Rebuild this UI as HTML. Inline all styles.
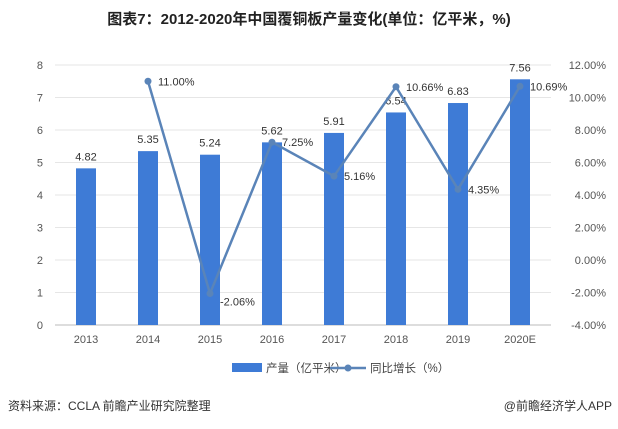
<!DOCTYPE html>
<html><head><meta charset="utf-8"><style>
body{margin:0;background:#fff;width:618px;height:424px;overflow:hidden;font-family:"Liberation Sans","Noto Sans CJK SC",sans-serif}
svg text{font-family:"Liberation Sans","Noto Sans CJK SC",sans-serif}
</style></head><body>
<svg width="618" height="424">
<text x="309" y="24" text-anchor="middle" font-size="15" font-weight="bold" fill="#222">图表7：2012-2020年中国覆铜板产量变化(单位：亿平米，%)</text>
<g id="grid"></g><g id="bars"></g><g id="line"></g><g id="axes"></g>
<g>
<rect x="232" y="363" width="30" height="9" fill="#3e7bd6"/>
<text x="266" y="372" font-size="11.5" fill="#444">产量（亿平米）</text>
<line x1="330" y1="368" x2="366" y2="368" stroke="#5a84b8" stroke-width="2.5"/>
<circle cx="348" cy="368" r="3.5" fill="#5a84b8"/>
<text x="370" y="372" font-size="11.5" fill="#444">同比增长（%）</text>
</g>
<text x="8" y="410" font-size="12" fill="#333">资料来源：CCLA 前瞻产业研究院整理</text>
<text x="612" y="410" text-anchor="end" font-size="12" fill="#333">@前瞻经济学人APP</text>
</svg>
<script>
const categories=["2013","2014","2015","2016","2017","2018","2019","2020E"];
const production=[4.82,5.35,5.24,5.62,5.91,6.54,6.83,7.56];
const growth=[null,11.00,-2.06,7.25,5.16,10.66,4.35,10.69];
const leftTicks=[0,1,2,3,4,5,6,7,8];
const rightTicks=[-4,-2,0,2,4,6,8,10,12];
const NS="http://www.w3.org/2000/svg";
const x0=55,step=62,yTop=65,yBot=325;
const xs=i=>x0+step*(i+0.5);
const yL=v=>yBot-(v/8)*(yBot-yTop);
const yR=v=>yBot-((v+4)/16)*(yBot-yTop);
function mk(tag,attrs,parent,txt){const e=document.createElementNS(NS,tag);for(const k in attrs)e.setAttribute(k,attrs[k]);if(txt!==undefined)e.textContent=txt;document.getElementById(parent).appendChild(e);return e;}
leftTicks.forEach(t=>{
 const g=mk('line',{x1:x0,x2:x0+step*8,y1:yL(t),y2:yL(t),stroke:t===0?'#bbb':'#e6e6e6','stroke-width':1},'grid');
 
 
 const l=mk('text',{x:43,y:yL(t)+4,'text-anchor':'end','font-size':11,fill:'#555'},'axes',String(t));
 
 
});
rightTicks.forEach(t=>{
 const l=mk('text',{x:606,y:yR(t)+4,'text-anchor':'end','font-size':11,fill:'#555'},'axes',t.toFixed(2)+'%');
 
 
});
categories.forEach((c,i)=>{
 const l=mk('text',{x:xs(i),y:343,'text-anchor':'middle','font-size':11,fill:'#555'},'axes',c);
 
 
 const v=production[i];
 const b=mk('rect',{x:xs(i)-10,y:yL(v),width:20,height:yBot-yL(v),fill:'#3e7bd6'},'bars');
 
 
 const bl=mk('text',{x:xs(i),y:yL(v)-8,'text-anchor':'middle','font-size':11,fill:'#333'},'bars',v.toFixed(2));
 
 
});
let d='';
growth.forEach((g,i)=>{if(g===null)return;d+=(d?'L':'M')+xs(i)+','+yR(g);});
const p=mk('path',{d:d,fill:'none',stroke:'#5a84b8','stroke-width':2.5},'line');


growth.forEach((g,i)=>{if(g===null)return;
 const c=mk('circle',{cx:xs(i),cy:yR(g),r:3.5,fill:'#5a84b8'},'line');
 
 
 const t=mk('text',{x:xs(i)+10,y:yR(g)+(g<0?12:4),'font-size':11,fill:'#333'},'line',g.toFixed(2)+'%');
 
 
});
</script>
</body></html>
